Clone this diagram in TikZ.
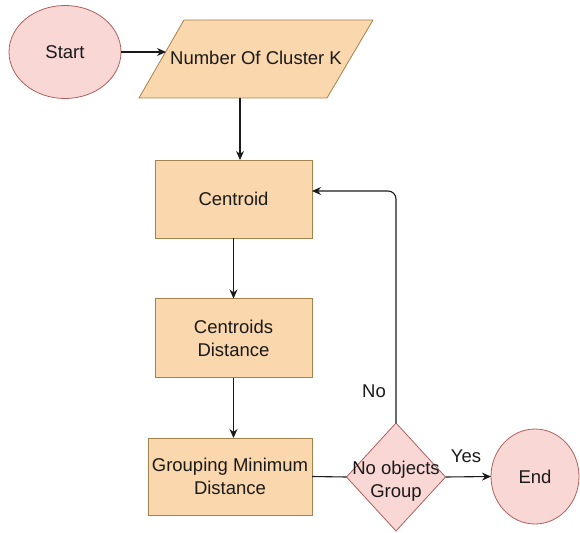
\documentclass[tikz,border=0pt]{standalone}
\usepackage{fontspec}
\setmainfont{Liberation Sans}
\usetikzlibrary{shapes.geometric,arrows.meta}
\definecolor{boxfill}{HTML}{FAD7AC}
\definecolor{boxline}{HTML}{A3824E}
\definecolor{endfill}{HTML}{F8D7D5}
\definecolor{endline}{HTML}{B0605C}
\definecolor{inkcol}{HTML}{1A1A1A}

\begin{document}
\begin{tikzpicture}[x=1pt,y=-1pt,
  every node/.style={font=\fontsize{18.5}{23}\selectfont, text=inkcol, align=center, inner sep=0pt, outer sep=0pt},
  terminal/.style={ellipse, draw=endline, fill=endfill, line width=0.8pt},
  process/.style={rectangle, draw=boxline, fill=boxfill, line width=0.8pt},
  inputbox/.style={draw=boxline, fill=boxfill, line width=0.8pt},
  decision/.style={diamond, draw=endline, fill=endfill, line width=0.8pt, minimum width=99pt, minimum height=108pt},
  flow/.style={draw=inkcol, line width=1.1pt, -{Stealth[length=9pt,width=8pt]}}]
\useasboundingbox (0,0) rectangle (580,532);
\coordinate (numknw) at (184,20);
\coordinate (numkne) at (373,20);
\coordinate (numkse) at (327,98);
\coordinate (numksw) at (139,98);
\coordinate (numkin) at (166,52);
\coordinate (numkout) at (240,98);
\draw[inputbox] (numknw) -- (numkne) -- (numkse) -- (numksw) -- cycle;
\node (numk) at (256,58) {Number Of Cluster K};
\node[terminal, minimum width=112pt, minimum height=93pt] (start) at (65,52) {Start};
\node[process, minimum width=157pt, minimum height=78pt] (cen) at (233.5,199) {Centroid};
\node[process, minimum width=157pt, minimum height=79pt] (dist) at (233.5,338) {Centroids\\Distance};
\node[process, minimum width=164pt, minimum height=77pt] (grp) at (230,476.5) {Grouping Minimum\\Distance};
\node[decision] (dec) at (396,477) {};
\node (dectxt) at (396,481) {No objects\\Group};
\node[terminal, minimum width=88pt, minimum height=95pt] (endn) at (535,476.5) {End};
\node (yes) at (466,456) {Yes};
\node (no) at (374,391) {No};

\draw[flow] (start.east) -- (numkin);
\draw[flow] (numkout) -- (numkout |- cen.north);
\draw[flow] (cen) -- (dist);
\draw[flow] (dist.south) -- (dist.south |- grp.north);
\draw[draw=inkcol, line width=1.1pt] (grp.east) -- (dec.west);
\draw[flow] (dec.east) -- (endn.west);
\draw[flow, rounded corners=8pt] (dec.north) |- ([yshift=8pt]cen.east);
\end{tikzpicture}
\end{document}
